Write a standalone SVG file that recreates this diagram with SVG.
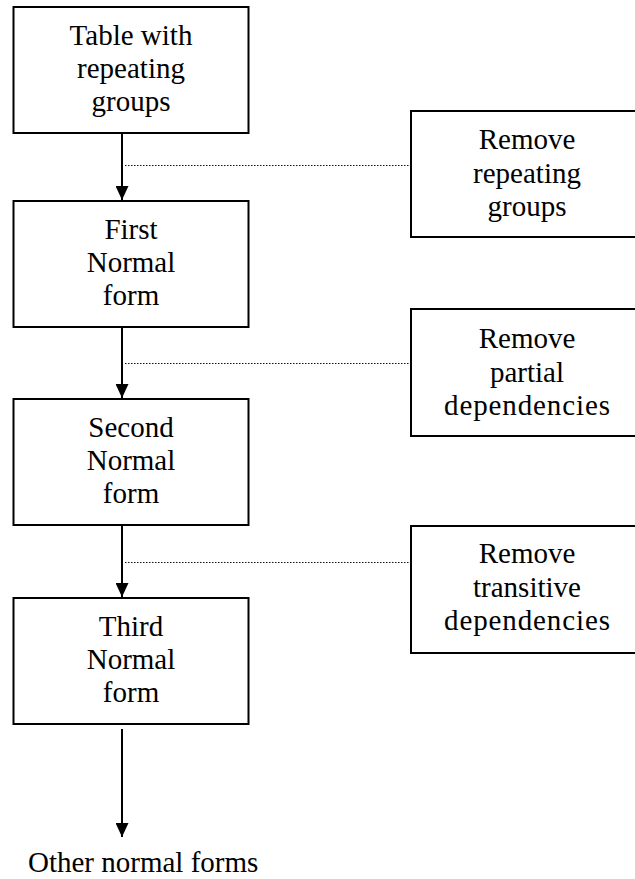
<svg xmlns="http://www.w3.org/2000/svg" width="635" height="879" viewBox="0 0 635 879">
  <style>
    .box { fill: #ffffff; stroke: #000000; stroke-width: 2; }
    .label { font-family: "Liberation Serif", "Times New Roman", serif; font-size: 29px; fill: #000000; text-anchor: middle; }
    .flow { stroke: #000000; stroke-width: 2; fill: none; marker-end: url(#head); }
    .link { stroke: #111111; stroke-width: 1; stroke-dasharray: 1.5 1.5; fill: none; }
  </style>
  <defs>
    <marker id="head" viewBox="0 0 14 13" refX="14" refY="6.5" markerWidth="14" markerHeight="13" markerUnits="userSpaceOnUse" orient="auto">
      <path d="M0,0 L14,6.5 L0,13 Z" fill="#000000"/>
    </marker>
  </defs>
  <rect width="635" height="879" fill="#ffffff"/>

  <!-- main sequence of normal forms -->
  <g id="node-table">
    <rect class="box" x="13.5" y="7" width="235" height="126"/>
    <text class="label" x="131" y="45">Table with</text>
    <text class="label" x="131" y="78">repeating</text>
    <text class="label" x="131" y="111">groups</text>
  </g>
  <g id="node-1nf">
    <rect class="box" x="13.5" y="201" width="235" height="126"/>
    <text class="label" x="131" y="239">First</text>
    <text class="label" x="131" y="272">Normal</text>
    <text class="label" x="131" y="305">form</text>
  </g>
  <g id="node-2nf">
    <rect class="box" x="13.5" y="399" width="235" height="126"/>
    <text class="label" x="131" y="437">Second</text>
    <text class="label" x="131" y="470">Normal</text>
    <text class="label" x="131" y="503">form</text>
  </g>
  <g id="node-3nf">
    <rect class="box" x="13.5" y="598" width="235" height="126"/>
    <text class="label" x="131" y="636">Third</text>
    <text class="label" x="131" y="669">Normal</text>
    <text class="label" x="131" y="702">form</text>
  </g>
  <g id="node-other">
    <text class="label" x="28" y="872" style="text-anchor:start">Other normal forms</text>
  </g>

  <!-- transformation steps -->
  <g id="step-repeating">
    <rect class="box" x="411" y="111" width="235" height="126"/>
    <text class="label" x="527" y="149">Remove</text>
    <text class="label" x="527" y="183">repeating</text>
    <text class="label" x="527" y="216">groups</text>
  </g>
  <g id="step-partial">
    <rect class="box" x="411" y="309" width="235" height="127"/>
    <text class="label" x="527" y="348">Remove</text>
    <text class="label" x="527" y="382">partial</text>
    <text class="label" x="527" y="415" textLength="166" lengthAdjust="spacing">dependencies</text>
  </g>
  <g id="step-transitive">
    <rect class="box" x="411" y="526" width="235" height="127"/>
    <text class="label" x="527" y="563">Remove</text>
    <text class="label" x="527" y="597">transitive</text>
    <text class="label" x="527" y="630" textLength="166" lengthAdjust="spacing">dependencies</text>
  </g>

  <g id="connectors">
    <line class="flow" x1="122" y1="133" x2="122" y2="200"/>
    <line class="flow" x1="122" y1="327" x2="122" y2="398"/>
    <line class="flow" x1="122" y1="525" x2="122" y2="597"/>
    <line class="flow" x1="122" y1="729" x2="122" y2="837"/>
    <line class="link" x1="125" y1="165.5" x2="410" y2="165.5"/>
    <line class="link" x1="125" y1="363.5" x2="410" y2="363.5"/>
    <line class="link" x1="125" y1="562.5" x2="410" y2="562.5"/>
  </g>
</svg>
